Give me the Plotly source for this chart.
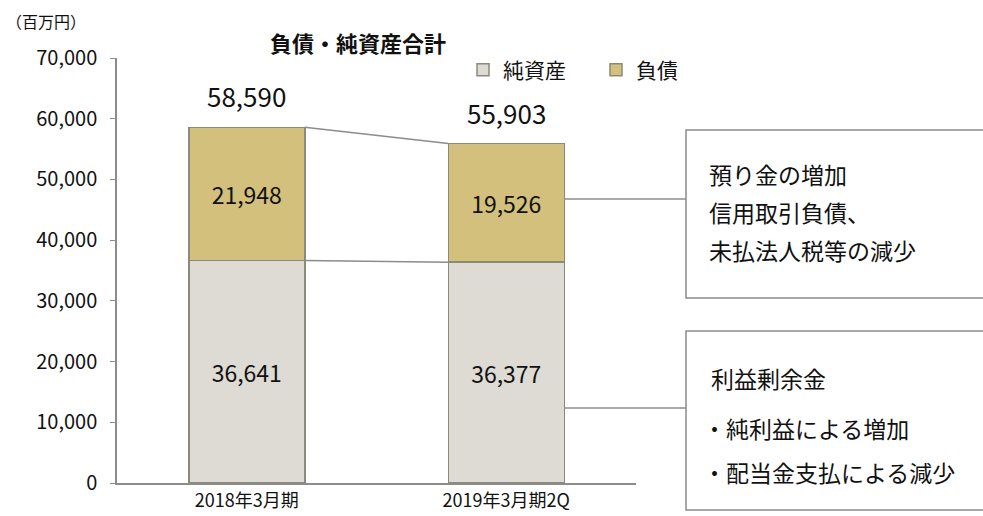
import plotly.graph_objects as go

categories = ["2018年3月期", "2019年3月期2Q"]
net_assets = [36641, 36377]
liabilities = [21948, 19526]
totals = [58590, 55903]
ytick_vals = [0, 10000, 20000, 30000, 40000, 50000, 60000, 70000]
ytick_text = ["0", "10,000", "20,000", "30,000", "40,000", "50,000", "60,000", "70,000"]
note_liab = ["預り金の増加", "信用取引負債、", "未払法人税等の減少"]
note_equity = ["利益剰余金", "・純利益による増加", "・配当金支払による減少"]

FONT = "Noto Sans CJK JP"
EDGE = "#8A8A78"
GREY = "#8C8C8C"
W, H = 983, 516
ML, MR, MT, MB = 117, 347, 58, 33
PW, PH = W - ML - MR, H - MT - MB
bar_w = 0.447


def px(xp):
    return (xp - ML) / PW


def py(yp):
    return (H - MB - yp) / PH


fig = go.Figure()
fig.add_trace(go.Bar(
    x=categories, y=net_assets, name="純資産",
    marker=dict(color="#DEDBD4", line=dict(color=EDGE, width=1.5)),
    text=[f"{v:,}" for v in net_assets], textposition="inside",
    insidetextanchor="middle", textfont=dict(size=23, color="#111"),
))
fig.add_trace(go.Bar(
    x=categories, y=liabilities, name="負債",
    marker=dict(color="#D3C07C", line=dict(color=EDGE, width=1.5)),
    text=[f"{v:,}" for v in liabilities], textposition="inside",
    insidetextanchor="middle", textfont=dict(size=23, color="#111"),
))

shapes = []
# connector lines between bars
for series in (totals, net_assets):
    shapes.append(dict(type="line", xref="x", yref="y",
                       x0=0 + bar_w / 2, x1=1 - bar_w / 2,
                       y0=series[0], y1=series[1],
                       line=dict(color=GREY, width=1.5)))
# callout boxes
bar2_right = px(117 + PW * (1.5 + bar_w / 2) / 2)
box_left = px(686)
shapes.append(dict(type="line", xref="paper", yref="paper",
                   x0=bar2_right, x1=box_left, y0=py(199), y1=py(199),
                   line=dict(color=GREY, width=1.5)))
shapes.append(dict(type="line", xref="paper", yref="paper",
                   x0=bar2_right, x1=box_left, y0=py(408), y1=py(408),
                   line=dict(color=GREY, width=1.5)))
shapes.append(dict(type="rect", xref="paper", yref="paper",
                   x0=box_left, x1=2.0, y0=py(298), y1=py(130),
                   line=dict(color=GREY, width=1.5)))
shapes.append(dict(type="rect", xref="paper", yref="paper",
                   x0=box_left, x1=2.0, y0=py(510), y1=py(331),
                   line=dict(color=GREY, width=1.5)))

annotations = []
for i, t in enumerate(totals):
    annotations.append(dict(x=categories[i], y=t, xref="x", yref="y",
                            text=f"{t:,}", showarrow=False, yanchor="bottom",
                            yshift=11, font=dict(size=26, color="#111", family=FONT)))
annotations.append(dict(x=px(358), y=py(42), xref="paper", yref="paper",
                        xanchor="center", yanchor="middle",
                        text="<b>負債・純資産合計</b>", showarrow=False,
                        font=dict(size=22, color="#111", family=FONT)))
annotations.append(dict(x=px(4), y=py(21), xref="paper", yref="paper",
                        xanchor="left", yanchor="middle", text="（百万円）", showarrow=False,
                        font=dict(size=16, color="#111", family=FONT)))
for txt, yy in zip(note_liab, [174, 212, 250]):
    annotations.append(dict(x=px(707), y=py(yy), xref="paper", yref="paper",
                            xanchor="left", yanchor="middle", text=txt, showarrow=False,
                            font=dict(size=23, color="#111", family=FONT)))
for txt, yy, xx in zip(note_equity, [378, 428, 472], [709, 701, 701]):
    annotations.append(dict(x=px(xx), y=py(yy), xref="paper", yref="paper",
                            xanchor="left", yanchor="middle", text=txt, showarrow=False,
                            font=dict(size=23, color="#111", family=FONT)))

fig.update_layout(
    width=W, height=H,
    margin=dict(l=ML, r=MR, t=MT, b=MB, pad=0),
    barmode="stack", bargap=1 - bar_w,
    plot_bgcolor="white", paper_bgcolor="white",
    font=dict(family=FONT, color="#111"),
    showlegend=True,
    legend=dict(orientation="h", x=px(463), y=py(70), xanchor="left", yanchor="middle",
                font=dict(size=21, family=FONT), bgcolor="rgba(0,0,0,0)",
                traceorder="normal", itemwidth=30, entrywidth=88),
    shapes=shapes, annotations=annotations,
)
fig.update_yaxes(range=[0, 70000], tickvals=ytick_vals, ticktext=ytick_text,
                 automargin=False,
                 showgrid=False, zeroline=False, showline=True, linecolor=GREY,
                 linewidth=1.5, ticks="outside", ticklen=5, tickcolor=GREY,
                 tickfont=dict(size=20, family=FONT, color="#111"), ticklabelstandoff=9)
fig.update_xaxes(automargin=False, showgrid=False, showline=True, linecolor=GREY,
                 linewidth=1.5, ticks="", tickfont=dict(size=18, family=FONT, color="#111"),
                 ticklabelstandoff=1)

fig.write_html("out.html", config={"displayModeBar": False},
               post_script="document.body.style.margin='0';")
